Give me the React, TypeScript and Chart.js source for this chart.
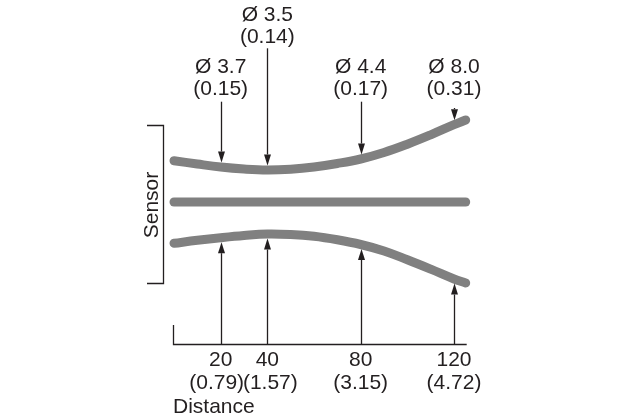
import React, { useEffect, useRef } from "react";
import { Chart, registerables } from "chart.js";

Chart.register(...registerables);

// ---- data ----
const beamX = [0, 10, 20, 30, 40, 50, 60, 70, 80, 90, 100, 110, 120, 125];
const upperEdge = [41.3, 38, 35, 33, 32, 32.8, 35, 38.5, 43, 49.5, 57.8, 67.2, 77.3, 82];
const lowerEdge = [-41.3, -38.3, -35.7, -33.5, -32, -32.5, -34.3, -37.8, -42.5, -49, -57.8, -67.2, -77, -81];
const axisLineX = [0, 125];
const axisLineY = [0, 0];

const markX = [20, 40, 80, 120];
const diameterMM = ["Ø 3.7", "Ø 3.5", "Ø 4.4", "Ø 8.0"];
const diameterIn = ["(0.15)", "(0.14)", "(0.17)", "(0.31)"];
const distanceMM = ["20", "40", "80", "120"];
const distanceIn = ["(0.79)", "(1.57)", "(3.15)", "(4.72)"];

// ---- layout (pixels) ----
const topBaseline = [72.7, 20.7, 72.7, 72.7];
const topArrowStart = [101.7, 48.3, 101.7, 108];
const bottomSubNudge = [-4, 3, 0, 0];
const FONT = "21px 'Liberation Sans', Arial, sans-serif";
const INK = "#231f20";
const BEAM = "#808080";

function drawArrow(ctx: CanvasRenderingContext2D, x: number, y0: number, tip: number) {
  const dir = tip > y0 ? 1 : -1;
  const headLen = 11;
  const halfW = 3.5;
  const base = tip - dir * headLen;
  ctx.beginPath();
  ctx.moveTo(x, y0);
  ctx.lineTo(x, base);
  ctx.stroke();
  ctx.beginPath();
  ctx.moveTo(x, tip);
  ctx.lineTo(x - halfW, base);
  ctx.lineTo(x + halfW, base);
  ctx.closePath();
  ctx.fill();
}

const annotations = {
  id: "beamAnnotations",
  afterDatasetsDraw(chart: any) {
    const ctx: CanvasRenderingContext2D = chart.ctx;
    const xs = chart.scales.x;
    const ys = chart.scales.y;
    ctx.save();
    ctx.strokeStyle = INK;
    ctx.fillStyle = INK;
    ctx.lineWidth = 1.3;
    ctx.font = FONT;
    ctx.textAlign = "center";
    ctx.textBaseline = "alphabetic";

    const half = 4.5;
    const axisPix = 344;

    markX.forEach((mx, i) => {
      const idx = beamX.indexOf(mx);
      const px = Math.round(xs.getPixelForValue(mx)) + 0.5;
      const upTip = ys.getPixelForValue(upperEdge[idx]) - half;
      drawArrow(ctx, px, topArrowStart[i], upTip);
      const loTip = ys.getPixelForValue(lowerEdge[idx]) + half;
      drawArrow(ctx, px, axisPix, loTip);
      const cx = xs.getPixelForValue(mx);
      ctx.fillText(diameterMM[i], cx, topBaseline[i]);
      ctx.fillText(diameterIn[i], cx, topBaseline[i] + 22.3);
      ctx.fillText(distanceMM[i], cx, 366);
      ctx.fillText(distanceIn[i], cx + bottomSubNudge[i], 389);
    });

    const x0 = xs.getPixelForValue(0) - 1;
    const x1 = xs.getPixelForValue(125) + 1;
    ctx.beginPath();
    ctx.moveTo(x0 + 0.5, 325);
    ctx.lineTo(x0 + 0.5, axisPix + 0.5);
    ctx.lineTo(x1, axisPix + 0.5);
    ctx.stroke();

    ctx.beginPath();
    ctx.moveTo(147, 125.5);
    ctx.lineTo(163.5, 125.5);
    ctx.lineTo(163.5, 283.5);
    ctx.lineTo(147, 283.5);
    ctx.stroke();

    ctx.textAlign = "left";
    ctx.fillText("Distance", x0, 412.7);

    ctx.save();
    ctx.translate(158.3, 205);
    ctx.rotate(-Math.PI / 2);
    ctx.textAlign = "center";
    ctx.fillText("Sensor", 0, 0);
    ctx.restore();

    ctx.restore();
  },
};

export default function App() {
  const ref = useRef<HTMLCanvasElement | null>(null);
  useEffect(() => {
    if (!ref.current) return;
    const line = (xs: number[], ys: number[]) => xs.map((x, i) => ({ x, y: ys[i] }));
    const common = {
      borderColor: BEAM,
      borderWidth: 9,
      borderCapStyle: "round" as const,
      borderJoinStyle: "round" as const,
      pointRadius: 0,
      fill: false,
      clip: false as any,
      tension: 0.4,
    };
    const chart = new Chart(ref.current, {
      type: "line",
      data: {
        datasets: [
          { ...common, label: "upper", data: line(beamX, upperEdge) },
          { ...common, label: "axis", data: line(axisLineX, axisLineY), tension: 0 },
          { ...common, label: "lower", data: line(beamX, lowerEdge) },
        ],
      },
      options: {
        responsive: false,
        animation: false,
        layout: { padding: { left: 174, right: 154.3, top: 102, bottom: 118 } },
        scales: {
          x: { type: "linear", min: 0, max: 125, display: false },
          y: { type: "linear", min: -100, max: 100, display: false },
        },
        plugins: { legend: { display: false }, tooltip: { enabled: false } },
      },
      plugins: [annotations],
    });
    return () => chart.destroy();
  }, []);
  return (
    <div style={{ position: "absolute", left: 0, top: 0, width: 620, height: 420, background: "#fff" }}>
      <canvas ref={ref} width={620} height={420} />
    </div>
  );
}
